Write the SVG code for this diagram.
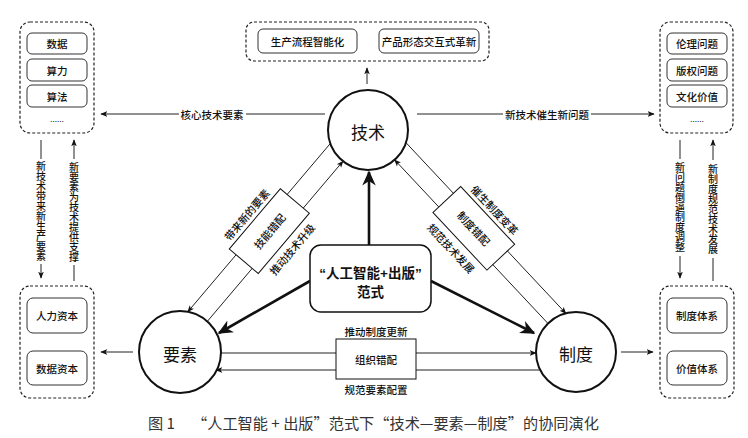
<svg xmlns="http://www.w3.org/2000/svg" width="748" height="438" viewBox="0 0 748 438">
<style>
text{font-family:"Noto Sans CJK SC","Liberation Sans",sans-serif;fill:#111;}
.lb{font-size:10.5px;font-weight:500;text-anchor:middle;dominant-baseline:central;}
.vt{font-size:10px;font-weight:500;writing-mode:vertical-rl;text-anchor:middle;}
.big{font-size:17px;text-anchor:middle;dominant-baseline:central;}
.dash{fill:#fff;stroke:#222;stroke-width:1.2;stroke-dasharray:3 2;}
.ib{fill:#fff;stroke:#333;stroke-width:1;}
.circ{fill:#fff;stroke:#111;stroke-width:2;}
.ln{fill:none;stroke:#222;stroke-width:1;}
.thick{fill:none;stroke:#111;stroke-width:2.6;}
.dot{font-size:8px;text-anchor:middle;}
.cap{font-size:15.2px;fill:#333;dominant-baseline:central;}
</style>
<defs>
<marker id="ar" viewBox="0 0 10 10" refX="9" refY="5" markerWidth="7" markerHeight="7" orient="auto" markerUnits="userSpaceOnUse"><path d="M0,1 L10,5 L0,9 L2.5,5 Z" fill="#111"/></marker>
<marker id="arb" viewBox="0 0 10 10" refX="9" refY="5" markerWidth="15" markerHeight="15" orient="auto" markerUnits="userSpaceOnUse"><path d="M0,0.5 L10,5 L0,9.5 L3,5 Z" fill="#111"/></marker>
</defs>
<rect width="748" height="438" fill="#fff"/>

<g id="connectors">
  <line class="ln" x1="367" y1="84" x2="367" y2="68" marker-end="url(#ar)"/>
  <line class="ln" x1="325" y1="114" x2="246" y2="114"/>
  <line class="ln" x1="179" y1="114" x2="101" y2="114" marker-end="url(#ar)"/>
  <text class="lb" x="212" y="114">核心技术要素</text>
  <line class="ln" x1="417" y1="114" x2="503" y2="114"/>
  <line class="ln" x1="591" y1="114" x2="654" y2="114" marker-end="url(#ar)"/>
  <text class="lb" x="547" y="114">新技术催生新问题</text>
  <line class="ln" x1="41" y1="140" x2="41" y2="159"/>
  <line class="ln" x1="41" y1="264" x2="41" y2="278" marker-end="url(#ar)"/>
  <text class="vt" x="41" y="211">新技术带来新生产要素</text>
  <line class="ln" x1="74" y1="281" x2="74" y2="265"/>
  <line class="ln" x1="74" y1="159" x2="74" y2="140" marker-end="url(#ar)"/>
  <text class="vt" x="74" y="212">新要素为技术提供支撑</text>
  <line class="ln" x1="680" y1="140" x2="680" y2="159"/>
  <line class="ln" x1="680" y1="256" x2="680" y2="278" marker-end="url(#ar)"/>
  <text class="vt" x="680" y="207">新问题倒逼制度调整</text>
  <line class="ln" x1="713" y1="281" x2="713" y2="258"/>
  <line class="ln" x1="713" y1="160" x2="713" y2="140" marker-end="url(#ar)"/>
  <text class="vt" x="713" y="209">新制度规范技术发展</text>
  <line class="ln" x1="133" y1="352" x2="101" y2="352" marker-end="url(#ar)"/>
  <line class="ln" x1="621" y1="352" x2="653" y2="352" marker-end="url(#ar)"/>
  <line class="ln" x1="330.3" y1="143.5" x2="187.8" y2="311.8" marker-end="url(#ar)"/>
  <line class="ln" x1="207.3" y1="321.4" x2="343" y2="161.2" marker-end="url(#ar)"/>
  <line class="ln" x1="406" y1="142.7" x2="565.9" y2="313.4" marker-end="url(#ar)"/>
  <line class="ln" x1="547.9" y1="323.4" x2="394.7" y2="159.9" marker-end="url(#ar)"/>
  <line class="ln" x1="221" y1="353" x2="536" y2="353" marker-end="url(#ar)"/>
  <line class="ln" x1="540" y1="370" x2="216" y2="370" marker-end="url(#ar)"/>
  <line class="thick" x1="369" y1="245" x2="369" y2="172" marker-end="url(#arb)"/>
  <line class="thick" x1="310" y1="281" x2="219" y2="333" marker-end="url(#arb)"/>
  <line class="thick" x1="431" y1="281" x2="534" y2="333" marker-end="url(#arb)"/>
</g>

<g id="box-left-top">
  <rect class="dash" x="20" y="22" width="74" height="111" rx="10"/>
  <rect class="ib" x="27" y="33" width="60" height="21" rx="5"/>
  <text class="lb" x="57" y="43.5">数据</text>
  <rect class="ib" x="27" y="59" width="60" height="22" rx="5"/>
  <text class="lb" x="57" y="70">算力</text>
  <rect class="ib" x="27" y="85" width="60" height="22" rx="5"/>
  <text class="lb" x="57" y="96">算法</text>
  <text class="dot" x="57" y="122">......</text>
</g>

<g id="box-top">
  <rect class="dash" x="246" y="22" width="243" height="39" rx="8"/>
  <rect class="ib" x="258" y="29" width="99" height="24" rx="5"/>
  <text class="lb" x="307.5" y="41">生产流程智能化</text>
  <rect class="ib" x="379" y="29" width="100" height="24" rx="5"/>
  <text class="lb" x="429" y="41">产品形态交互式革新</text>
</g>

<g id="box-right-top">
  <rect class="dash" x="660" y="22" width="73" height="111" rx="10"/>
  <rect class="ib" x="667" y="33" width="60" height="21" rx="5"/>
  <text class="lb" x="697" y="43.5">伦理问题</text>
  <rect class="ib" x="667" y="59" width="60" height="22" rx="5"/>
  <text class="lb" x="697" y="70">版权问题</text>
  <rect class="ib" x="667" y="85" width="60" height="22" rx="5"/>
  <text class="lb" x="697" y="96">文化价值</text>
  <text class="dot" x="697" y="122">......</text>
</g>

<g id="box-left-bottom">
  <rect class="dash" x="20" y="286" width="74" height="112" rx="10"/>
  <rect class="ib" x="27" y="298" width="60" height="35" rx="6"/>
  <text class="lb" x="57" y="315.5">人力资本</text>
  <rect class="ib" x="27" y="351" width="60" height="34" rx="6"/>
  <text class="lb" x="57" y="368">数据资本</text>
</g>

<g id="box-right-bottom">
  <rect class="dash" x="660" y="286" width="74" height="112" rx="10"/>
  <rect class="ib" x="667" y="298" width="60" height="35" rx="6"/>
  <text class="lb" x="697" y="315.5">制度体系</text>
  <rect class="ib" x="667" y="351" width="60" height="34" rx="6"/>
  <text class="lb" x="697" y="368">价值体系</text>
</g>

<g id="node-tech">
  <circle class="circ" cx="368" cy="130" r="40"/>
  <text class="big" x="368" y="131">技术</text>
</g>
<g id="node-element">
  <circle class="circ" cx="180" cy="352" r="41"/>
  <text class="big" x="180" y="353">要素</text>
</g>
<g id="node-institution">
  <circle class="circ" cx="576" cy="352" r="40"/>
  <text class="big" x="576" y="353">制度</text>
</g>

<g id="node-paradigm">
  <rect x="310" y="245" width="121" height="67" rx="11" fill="#fff" stroke="#111" stroke-width="1.5"/>
  <text x="370.5" y="273" style="font-family:'Liberation Sans','Noto Sans CJK SC',sans-serif;font-size:13.5px;font-weight:bold;text-anchor:middle;dominant-baseline:central;">“人工智能+出版”</text>
  <text x="370.5" y="291" style="font-size:13.5px;font-weight:bold;text-anchor:middle;dominant-baseline:central;">范式</text>
</g>

<g id="node-skill-mismatch" transform="translate(269.3,231.1) rotate(-49.7)">
  <rect x="-39.5" y="-19" width="79" height="38" fill="#fff" stroke="#111" stroke-width="1"/>
  <text class="lb" x="0" y="0">技能错配</text>
  <text class="lb" x="-2" y="-28">带来新的要素</text>
  <text class="lb" x="1" y="29">推动技术升级</text>
</g>

<g id="node-inst-mismatch" transform="translate(473.8,228.3) rotate(46.9)">
  <rect x="-39.5" y="-19" width="79" height="38" fill="#fff" stroke="#111" stroke-width="1"/>
  <text class="lb" x="0" y="0">制度错配</text>
  <text class="lb" x="1" y="-28">催生制度变革</text>
  <text class="lb" x="-1" y="30">规范技术发展</text>
</g>

<g id="node-org-mismatch">
  <rect x="336" y="339" width="80" height="40" fill="#fff" stroke="#111" stroke-width="1"/>
  <text class="lb" x="376" y="359">组织错配</text>
  <text class="lb" x="376" y="331">推动制度更新</text>
  <text class="lb" x="376" y="389">规范要素配置</text>
</g>

<g id="caption">
  <text class="cap" x="148" y="422">图 1</text>
  <text class="cap" x="192" y="422">“人工智能 + 出版”范式下“技术—要素—制度”的协同演化</text>
</g>
</svg>
